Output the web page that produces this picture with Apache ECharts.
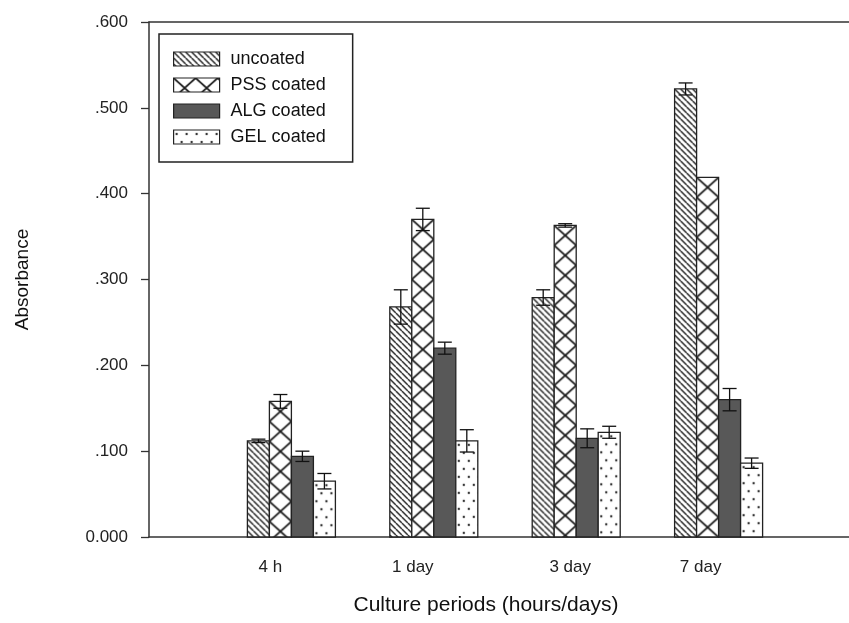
<!DOCTYPE html>
<html>
<head>
<meta charset="utf-8">
<script src="https://cdn.jsdelivr.net/npm/echarts@6/dist/echarts.min.js"></script>
<style>
html,body{margin:0;padding:0;background:#fff;}
#chart{width:849px;height:623px;}
</style>
</head>
<body>
<div id="chart"></div>
<script>
// ---- data ----
var categories = ['4 h', '1 day', '3 day', '7 day'];
var seriesNames = ['uncoated', 'PSS coated', 'ALG coated', 'GEL coated'];
var uncoated = [0.112, 0.268, 0.279, 0.522];
var pssCoated = [0.158, 0.370, 0.363, 0.419];
var algCoated = [0.094, 0.220, 0.115, 0.160];
var gelCoated = [0.065, 0.112, 0.122, 0.086];
var uncoatedErr = [0.002, 0.020, 0.009, 0.007];
var pssCoatedErr = [0.008, 0.013, 0.002, 0.000];
var algCoatedErr = [0.006, 0.007, 0.011, 0.013];
var gelCoatedErr = [0.009, 0.013, 0.007, 0.006];
var yTicks = [0, 0.1, 0.2, 0.3, 0.4, 0.5, 0.6];

// ---- patterns ----
function makeCanvas(w, h) { var c = document.createElement('canvas'); c.width = w; c.height = h; return c; }
function hatchPattern() {
  var s = 6, c = makeCanvas(s, s), g = c.getContext('2d');
  g.fillStyle = '#fff'; g.fillRect(0, 0, s, s);
  g.strokeStyle = '#222'; g.lineWidth = 1.4;
  [-s, 0, s].forEach(function (k) { g.beginPath(); g.moveTo(0, k); g.lineTo(s, s + k); g.stroke(); });
  return { image: c, repeat: 'repeat' };
}
function crossPattern() {
  var w = 22, h = 20, c = makeCanvas(w, h), g = c.getContext('2d');
  g.fillStyle = '#fff'; g.fillRect(0, 0, w, h);
  g.strokeStyle = '#1a1a1a'; g.lineWidth = 1.7;
  g.beginPath(); g.moveTo(0, 0); g.lineTo(w, h); g.moveTo(w, 0); g.lineTo(0, h); g.stroke();
  return { image: c, repeat: 'repeat' };
}
function dotPattern() {
  var w = 10, h = 16, c = makeCanvas(w, h), g = c.getContext('2d');
  g.fillStyle = '#fff'; g.fillRect(0, 0, w, h);
  g.fillStyle = '#333';
  g.beginPath(); g.arc(3, 4, 1.2, 0, Math.PI * 2); g.fill();
  g.beginPath(); g.arc(8, 12, 1.2, 0, Math.PI * 2); g.fill();
  return { image: c, repeat: 'repeat' };
}
var fills = [hatchPattern(), crossPattern(), '#585858', dotPattern()];
var values = [uncoated, pssCoated, algCoated, gelCoated];
var errs = [uncoatedErr, pssCoatedErr, algCoatedErr, gelCoatedErr];

var BAR_W = 22, CAP = 14;
var axisCats = [''].concat(categories).concat(['']);

function makeSeries(si) {
  var data = values[si].map(function (v, i) { return [i + 1, v, errs[si][i]]; });
  return {
    name: seriesNames[si],
    type: 'custom',
    xAxisIndex: 0, yAxisIndex: 0,
    itemStyle: { color: fills[si], borderColor: '#222', borderWidth: 1.2 },
    encode: { x: 0, y: 1 },
    data: data,
    z: 2,
    clip: false,
    renderItem: function (params, api) {
      var ci = api.value(0), v = api.value(1), e = api.value(2);
      var base = api.coord([ci, 0]);
      var top = api.coord([ci, v]);
      var cx = base[0] + (si - 1.5) * BAR_W;
      var left = cx - BAR_W / 2;
      var children = [{
        type: 'rect', x: left, y: top[1],
        shape: { x: 0, y: 0, width: BAR_W, height: base[1] - top[1] },
        style: { fill: fills[si], stroke: '#222', lineWidth: 1.3 }
      }];
      if (e > 0) {
        var hi = api.coord([ci, v + e])[1], lo = api.coord([ci, v - e])[1];
        children.push({ type: 'line', shape: { x1: cx, y1: hi, x2: cx, y2: lo }, style: { stroke: '#111', lineWidth: 1.3 } });
        children.push({ type: 'line', shape: { x1: cx - CAP / 2, y1: hi, x2: cx + CAP / 2, y2: hi }, style: { stroke: '#111', lineWidth: 1.3 } });
        children.push({ type: 'line', shape: { x1: cx - CAP / 2, y1: lo, x2: cx + CAP / 2, y2: lo }, style: { stroke: '#111', lineWidth: 1.3 } });
      }
      return { type: 'group', children: children };
    }
  };
}

var labelPad = { '4 h': 42, '1 day': 42, '3 day': 12, '7 day': 36 };
var FONT = 'Liberation Sans, Arial, sans-serif';
var TICK_FS = 17;

var option = {
  backgroundColor: '#fff',
  animation: false,
  textStyle: { fontFamily: FONT },
  grid: { left: 149, width: 712, top: 22, bottom: 86, containLabel: false, outerBoundsMode: 'none' },
  legend: {
    orient: 'vertical', left: 159, top: 34,
    data: seriesNames,
    icon: 'rect', itemWidth: 46, itemHeight: 14, itemGap: 8,
    padding: [16, 27, 16, 14],
    borderColor: '#222', borderWidth: 1.5,
    itemStyle: { borderColor: '#222', borderWidth: 1.2 },
    textStyle: { fontSize: 18, color: '#111', fontFamily: FONT, padding: [0, 0, 0, 6] },
    selectedMode: false
  },
  xAxis: [{
    type: 'category', data: axisCats, boundaryGap: false,
    axisLine: { show: true, lineStyle: { color: '#333', width: 1.5 } },
    axisTick: { show: false },
    splitLine: { show: false },
    axisLabel: {
      margin: 22, interval: 0, fontSize: TICK_FS, color: '#222', fontFamily: FONT,
      formatter: function (v) {
        if (!v) return '';
        var key = 'c' + categories.indexOf(v);
        return '{' + key + '|' + v + '}';
      },
      rich: {
        c0: { fontSize: TICK_FS, color: '#222', padding: [0, labelPad['4 h'], 0, 0] },
        c1: { fontSize: TICK_FS, color: '#222', padding: [0, labelPad['1 day'], 0, 0] },
        c2: { fontSize: TICK_FS, color: '#222', padding: [0, labelPad['3 day'], 0, 0] },
        c3: { fontSize: TICK_FS, color: '#222', padding: [0, labelPad['7 day'], 0, 0] }
      }
    },
    name: 'Culture periods (hours/days)', nameLocation: 'middle', nameGap: 58,
    nameTextStyle: { fontSize: 21, color: '#111', fontFamily: FONT, padding: [0, 38, 0, 0] }
  }, {
    type: 'category', data: axisCats, boundaryGap: false, position: 'top',
    axisLine: { show: true, lineStyle: { color: '#333', width: 1.5 } },
    axisTick: { show: false }, axisLabel: { show: false }, splitLine: { show: false }
  }],
  yAxis: {
    type: 'value', min: yTicks[0], max: yTicks[yTicks.length - 1], interval: 0.1,
    axisLine: { show: true, lineStyle: { color: '#333', width: 1.5 } },
    axisTick: { show: true, length: 8, inside: false, lineStyle: { color: '#333', width: 1.3 } },
    splitLine: { show: false },
    axisLabel: {
      margin: 21, fontSize: TICK_FS, color: '#222', fontFamily: FONT,
      formatter: function (v) { return v === 0 ? '0.000' : '.' + v.toFixed(3).split('.')[1]; }
    },
    name: 'Absorbance', nameLocation: 'middle', nameGap: 117,
    nameTextStyle: { fontSize: 19, color: '#111', fontFamily: FONT }
  },
  series: [makeSeries(0), makeSeries(1), makeSeries(2), makeSeries(3)]
};

var chart = echarts.init(document.getElementById('chart'), null, { renderer: 'canvas' });
chart.setOption(option);
</script>
</body>
</html>
